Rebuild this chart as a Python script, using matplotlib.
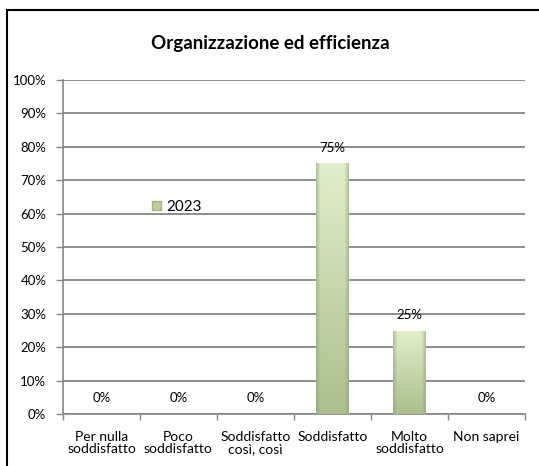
import numpy as np
import matplotlib
matplotlib.use('Agg')
import matplotlib.pyplot as plt
from matplotlib.patches import Rectangle, Patch
from matplotlib.colors import to_rgb

# Data
categories = ['Per nulla\nsoddisfatto', 'Poco\nsoddisfatto', 'Soddisfatto\ncosì, così',
              'Soddisfatto', 'Molto\nsoddisfatto', 'Non saprei']
values = [0, 0, 0, 75, 25, 0]
seriesName = '2023'
title = 'Organizzazione ed efficienza'

plt.rcParams['font.family'] = ['Lato', 'DejaVu Sans']

fig = plt.figure(figsize=(5.39, 4.66), dpi=100)
ax = fig.add_axes([63 / 539, 1 - 414 / 466, 462 / 539, 334 / 466])

x = np.arange(len(categories))
barWidth = 0.42
bars = ax.bar(x, values, width=barWidth, color='#c3d69b', edgecolor='none', zorder=3)

# Gradient fill for each bar (light top, darker edges)
light = np.array(to_rgb('#e2eecb'))
dark = np.array(to_rgb('#abc08d'))
edge = np.array(to_rgb('#8fa377'))
nx, ny = 40, 100
hx = np.linspace(-1, 1, nx)
vy = np.linspace(0, 1, ny)[:, None]
edgeFactor = np.clip((np.abs(hx) - 0.75) / 0.25, 0, 1)[None, :]
for b, v in zip(bars, values):
    if v <= 0:
        continue
    base = light[None, None, :] * vy[..., None] + dark[None, None, :] * (1 - vy[..., None])
    img = base * (1 - edgeFactor[..., None] * 0.6) + edge[None, None, :] * edgeFactor[..., None] * 0.6
    x0 = b.get_x()
    im = ax.imshow(img, extent=[x0, x0 + b.get_width(), 0, v], origin='lower',
                   aspect='auto', zorder=4, interpolation='bilinear')
    im.set_clip_path(b)

# Value labels
for xi, v in zip(x, values):
    ax.annotate(f'{v}%', (xi, v), xytext=(0, 7), textcoords='offset points',
                ha='center', va='bottom', fontsize=9.5, color='black', zorder=5)

ax.set_xlim(-0.5, len(categories) - 0.5)
ax.set_ylim(0, 100)
ax.set_yticks(np.arange(0, 101, 10))
ax.set_yticklabels([f'{t}%' for t in range(0, 101, 10)])
ax.set_xticks(x)
ax.set_xticklabels(categories, linespacing=1.05)
ax.set_xticks(np.arange(-0.5, len(categories), 1), minor=True)
ax.tick_params(axis='x', which='major', length=0, pad=12, labelsize=10)
ax.tick_params(axis='x', which='minor', length=4, color='#868686', width=1)
ax.tick_params(axis='y', length=5, color='#868686', width=1, pad=7, labelsize=9.5)

ax.grid(axis='y', color='#868686', linewidth=1.3, zorder=0)
ax.set_axisbelow(True)
for s in ['top', 'right']:
    ax.spines[s].set_visible(False)
for s in ['left', 'bottom']:
    ax.spines[s].set_color('#868686')
    ax.spines[s].set_linewidth(1.2)

# Legend
handle = Patch(facecolor='#b9cf94', edgecolor='#9fb385')
ax.legend([handle], [seriesName], loc='center left', bbox_to_anchor=(0.18, 0.62),
          frameon=False, fontsize=11, handlelength=0.6, handleheight=0.6,
          handletextpad=0.3, borderaxespad=0)

# Title
fig.text(270 / 539, 1 - 43 / 466, title, ha='center', va='center',
         fontsize=13.5, fontweight='bold')

# Outer frame (extends past image edges)
fig.patches.append(Rectangle((7 / 539, -0.1), 1.2, 1.1 - 10 / 466,
                             transform=fig.transFigure, fill=False,
                             edgecolor='black', linewidth=1.5))

fig.savefig('out.png', dpi=100)
